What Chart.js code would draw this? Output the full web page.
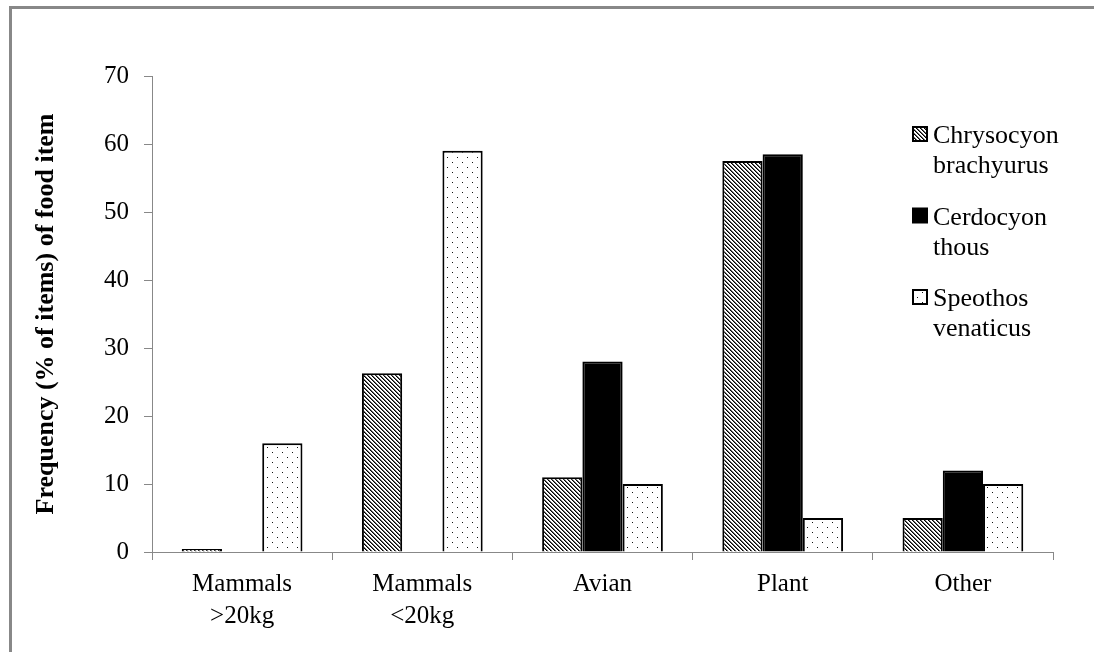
<!DOCTYPE html>
<html>
<head>
<meta charset="utf-8">
<script src="https://cdn.jsdelivr.net/npm/chart.js@4/dist/chart.umd.min.js"></script>
<style>
html,body{margin:0;padding:0;background:#fff;}
canvas{display:block;}
</style>
</head>
<body>
<canvas id="c" width="1094" height="652"></canvas>
<script>
const categories = [["Mammals", ">20kg"], ["Mammals", "<20kg"], "Avian", "Plant", "Other"];
const seriesNames = [["Chrysocyon", "brachyurus"], ["Cerdocyon", "thous"], ["Speothos", "venaticus"]];
const chrysocyon = [0, 26.3, 11, 57.5, 5];
const cerdocyon = [null, null, 28, 58.5, 12];
const speothos = [16, 59, 10, 5, 10];
const yTicks = [0, 10, 20, 30, 40, 50, 60, 70];

function hatchPattern() {
  const c = document.createElement('canvas');
  c.width = 4; c.height = 4;
  const g = c.getContext('2d');
  g.fillStyle = '#fff'; g.fillRect(0, 0, 4, 4);
  for (let i = 0; i < 4; i++) {
    g.fillStyle = '#000'; g.fillRect(i, i, 1, 1);
    g.fillStyle = '#666'; g.fillRect((i + 1) % 4, i, 1, 1);
  }
  return g.createPattern(c, 'repeat');
}
function dotPattern() {
  const c = document.createElement('canvas');
  c.width = 10; c.height = 10;
  const g = c.getContext('2d');
  g.fillStyle = '#fff'; g.fillRect(0, 0, 10, 10);
  g.fillStyle = '#111';
  g.fillRect(2, 2, 1, 1);
  g.fillRect(7, 7, 1, 1);
  return g.createPattern(c, 'repeat');
}
const fills = [hatchPattern(), '#000', dotPattern()];
const FONT = "'Liberation Serif', 'Times New Roman', serif";

const framePlugin = {
  id: 'frame',
  beforeDraw(chart) {
    const ctx = chart.ctx;
    ctx.save();
    ctx.strokeStyle = '#888';
    ctx.lineWidth = 3;
    ctx.beginPath();
    ctx.moveTo(10.5, 652);
    ctx.lineTo(10.5, 7.5);
    ctx.lineTo(1094, 7.5);
    ctx.stroke();
    ctx.restore();
  },
  afterDraw(chart) {
    const ctx = chart.ctx;
    ctx.save();
    ctx.font = "26px " + FONT;
    ctx.textBaseline = 'alphabetic';
    ctx.textAlign = 'left';
    const startY = 143, itemGap = 81.5, lineGap = 30;
    seriesNames.forEach((name, i) => {
      const y = startY + i * itemGap;
      ctx.fillStyle = fills[i];
      ctx.fillRect(913, y - 16, 14, 14);
      ctx.strokeStyle = '#000';
      ctx.lineWidth = 2;
      ctx.strokeRect(913, y - 16, 14, 14);
      ctx.fillStyle = '#000';
      name.forEach((line, j) => ctx.fillText(line, 933, y + j * lineGap));
    });
    ctx.restore();
  }
};

const mk = (label, data, i, extra) => Object.assign({
  label: label.join(' '),
  data: data,
  backgroundColor: fills[i],
  borderColor: '#000',
  borderWidth: 2,
  borderSkipped: 'bottom',
  categoryPercentage: 0.67,
  barPercentage: 1.0
}, extra || {});

new Chart(document.getElementById('c'), {
  type: 'bar',
  data: {
    labels: categories,
    datasets: [
      mk(seriesNames[0], chrysocyon, 0, {minBarLength: 3}),
      mk(seriesNames[1], cerdocyon, 1),
      mk(seriesNames[2], speothos, 2)
    ]
  },
  options: {
    responsive: false,
    animation: false,
    events: [],
    layout: {padding: {left: 0, right: 41, top: 76, bottom: 0}},
    plugins: {legend: {display: false}, tooltip: {enabled: false}},
    scales: {
      x: {
        grid: {display: true, drawOnChartArea: false, drawTicks: true, tickLength: 8, color: '#888', lineWidth: 1, offset: true},
        border: {display: true, color: '#888', width: 1},
        ticks: {font: {family: FONT, size: 25, lineHeight: 1.28}, color: '#000', padding: 8, maxRotation: 0, autoSkip: false},
        afterFit(s) { s.height = 100; }
      },
      y: {
        min: 0, max: 70,
        afterBuildTicks(s) { s.ticks = yTicks.map(v => ({value: v})); },
        grid: {display: true, drawOnChartArea: false, drawTicks: true, tickLength: 8, color: '#888', lineWidth: 1},
        border: {display: true, color: '#888', width: 1},
        ticks: {font: {family: FONT, size: 25}, color: '#000', padding: 15},
        title: {display: true, text: 'Frequency (% of items) of food item', font: {family: FONT, size: 26, weight: 'bold'}, color: '#000', padding: {top: 31, bottom: 0}},
        afterFit(s) { s.width = 152; }
      }
    }
  },
  plugins: [framePlugin]
});
</script>
</body>
</html>
